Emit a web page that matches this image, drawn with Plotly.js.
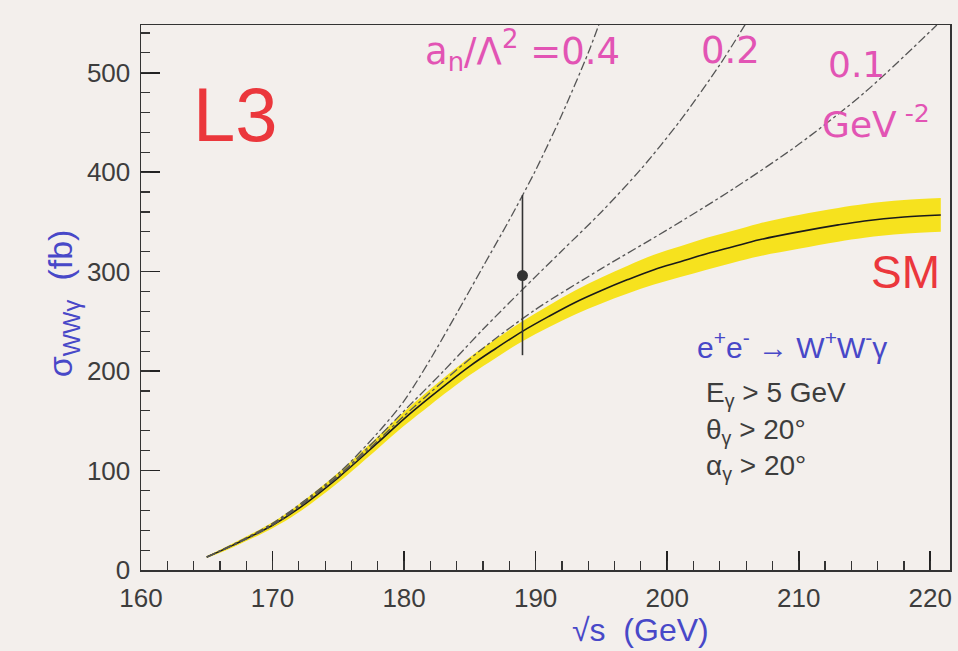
<!DOCTYPE html>
<html>
<head>
<meta charset="utf-8">
<script src="https://cdn.plot.ly/plotly-3.0.1.min.js"></script>
<style>
html,body{margin:0;padding:0;background:#f3efec;}
#chart{width:958px;height:651px;}
</style>
</head>
<body>
<div id="chart"></div>
<script>
// Standard Model prediction (fb) vs sqrt(s) (GeV)
const smX = [165, 167, 170, 172, 175, 178, 180, 182, 185, 187, 189, 191, 193, 195, 197, 199, 201, 203, 205, 207, 210, 213, 215, 218, 220.8];
const smY = [13, 25, 45, 62, 93, 128, 152, 174, 205, 223, 240, 255, 269, 281, 292, 302, 310, 318, 325, 332, 340, 347, 351, 355, 357];
// half-width of the SM uncertainty band (fb)
const smErr = [1, 2, 3, 4, 5, 6, 7, 8, 9, 9.5, 10, 11, 12, 13, 14, 15, 15.5, 16, 16, 16.5, 17, 17, 17, 17, 17];

// anomalous coupling predictions a_n/Lambda^2 = 0.4, 0.2, 0.1 GeV^-2
const an04X = [165, 170, 175, 178, 180, 182, 184, 186, 188, 190, 192, 194, 194.8];
const an04Y = [13, 47, 97, 138, 170, 212, 258, 305, 352, 402, 458, 520, 548];
const an02X = [165, 170, 175, 178, 180, 183, 186, 189, 192, 195, 198, 201, 204, 206];
const an02Y = [13, 46, 95, 133, 160, 200, 242, 282, 321, 360, 403, 452, 508, 550];
const an01X = [165, 170, 175, 178, 180, 183, 186, 190, 195, 200, 205, 210, 215, 220.5];
const an01Y = [13, 45, 94, 130, 155, 190, 223, 262, 303, 342, 383, 428, 480, 548];

// L3 measurement
const dataX = [189];
const dataY = [296];
const dataErrPlus = [81];
const dataErrMinus = [80];

const smLow = smY.map((v, i) => v - smErr[i]);
const smHigh = smY.map((v, i) => v + smErr[i]);

const dashStyle = {color: '#555', width: 1.3, dash: 'dashdot', shape: 'spline', smoothing: 0.8};

const traces = [
  {x: smX, y: smLow, mode: 'lines', line: {width: 0, shape: 'spline'}, hoverinfo: 'skip', showlegend: false},
  {x: smX, y: smHigh, mode: 'lines', line: {width: 0, shape: 'spline'}, fill: 'tonexty',
   fillcolor: 'rgb(246,226,30)', hoverinfo: 'skip', showlegend: false},
  {x: smX, y: smY, mode: 'lines', line: {color: '#1a1a1a', width: 1.6, shape: 'spline'}, showlegend: false},
  {x: an04X, y: an04Y, mode: 'lines', line: dashStyle, showlegend: false},
  {x: an02X, y: an02Y, mode: 'lines', line: dashStyle, showlegend: false},
  {x: an01X, y: an01Y, mode: 'lines', line: dashStyle, showlegend: false},
  {x: dataX, y: dataY, mode: 'markers', marker: {color: '#333', size: 11},
   error_y: {type: 'data', symmetric: false, array: dataErrPlus, arrayminus: dataErrMinus,
             color: '#333', thickness: 1.6, width: 0}, showlegend: false},
  // invisible trace so the minor-tick overlay axes are drawn
  {x: dataX, y: dataY, xaxis: 'x2', yaxis: 'y2', mode: 'markers', marker: {opacity: 0}, hoverinfo: 'skip', showlegend: false}
];

const magenta = 'rgb(226,84,180)';
const blue = 'rgb(72,72,200)';
const red = 'rgb(235,55,60)';
const grey = '#3d3d3d';
const fam = 'Liberation Sans, Arial, sans-serif';
const famWide = 'DejaVu Sans, Liberation Sans, sans-serif';

const annotations = [
  {x: 167.2, y: 458, text: 'L3', showarrow: false, font: {family: fam, size: 76, color: red}},
  {x: 181.4, y: 522, xanchor: 'left', text: 'a<sub>n</sub>/Λ<sup>2</sup> =0.4', showarrow: false, font: {family: famWide, size: 37, color: magenta}},
  {x: 204.8, y: 522, text: '0.2', showarrow: false, font: {family: famWide, size: 37, color: magenta}},
  {x: 214.4, y: 508, text: '0.1', showarrow: false, font: {family: famWide, size: 36, color: magenta}},
  {x: 215.9, y: 450, text: 'GeV<sup> -2</sup>', showarrow: false, font: {family: famWide, size: 36, color: magenta}},
  {x: 218.1, y: 300, text: 'SM', showarrow: false, font: {family: fam, size: 46, color: red}},
  {x: 209.5, y: 226, text: 'e<sup>+</sup>e<sup>-</sup> → W<sup>+</sup>W<sup>-</sup>γ', showarrow: false, font: {family: fam, size: 30, color: blue}},
  {x: 202.8, y: 176, xanchor: 'left', text: 'E<sub>γ</sub> > 5 GeV', showarrow: false, font: {family: fam, size: 28, color: grey}},
  {x: 202.8, y: 139, xanchor: 'left', text: 'θ<sub>γ</sub> > 20°', showarrow: false, font: {family: fam, size: 28, color: grey}},
  {x: 202.8, y: 103, xanchor: 'left', text: 'α<sub>γ</sub> > 20°', showarrow: false, font: {family: fam, size: 28, color: grey}},
  {xref: 'paper', yref: 'paper', x: -0.125, y: 0.49, textangle: -90, text: 'σ<sub>WWγ</sub>  (fb)', showarrow: false,
   font: {family: fam, size: 34, color: blue}},
  {xref: 'paper', yref: 'paper', x: 0.617, y: -0.1465, yanchor: 'bottom', text: '√s  (GeV)', showarrow: false,
   font: {family: fam, size: 32, color: blue}}
];

const layout = {
  width: 958, height: 651,
  margin: {l: 141, r: 8, t: 25, b: 81},
  paper_bgcolor: '#f3efec', plot_bgcolor: '#f3efec',
  showlegend: false,
  xaxis: {
    range: [160, 221.5], tick0: 160, dtick: 10,
    ticks: 'inside', ticklen: 19, tickwidth: 1.6, tickcolor: '#222',
    showline: true, linecolor: '#333', linewidth: 1.5, mirror: true,
    showgrid: false, zeroline: false,
    tickfont: {family: fam, size: 26, color: grey}, ticklabelstandoff: 4
  },
  yaxis: {
    range: [0, 548], tick0: 0, dtick: 100,
    ticks: 'inside', ticklen: 19, tickwidth: 1.6, tickcolor: '#222',
    showline: true, linecolor: '#333', linewidth: 1.5, mirror: true,
    showgrid: false, zeroline: false,
    tickfont: {family: fam, size: 26, color: grey}, ticklabelstandoff: 4
  },
  xaxis2: {
    overlaying: 'x', anchor: 'y2', side: 'bottom', matches: 'x',
    range: [160, 221.5], tick0: 160, dtick: 2,
    ticks: 'inside', ticklen: 9, tickwidth: 1.2, tickcolor: '#333',
    showticklabels: false, showgrid: false, zeroline: false, showline: false
  },
  yaxis2: {
    overlaying: 'y', anchor: 'x2', side: 'left', matches: 'y',
    range: [0, 548], tick0: 0, dtick: 20,
    ticks: 'inside', ticklen: 9, tickwidth: 1.2, tickcolor: '#333',
    showticklabels: false, showgrid: false, zeroline: false, showline: false
  },
  annotations: annotations
};

Plotly.newPlot('chart', traces, layout, {displayModeBar: false, staticPlot: true});
</script>
</body>
</html>
